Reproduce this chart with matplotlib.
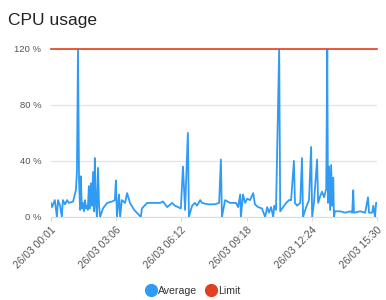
import matplotlib
matplotlib.use('Agg')
import matplotlib.pyplot as plt
import numpy as np
from matplotlib.lines import Line2D

plt.rcParams['font.family'] = ['Liberation Sans', 'DejaVu Sans']

# minutes after 26/03 00:01
minutes = [0, 3, 11, 17, 20, 26, 31, 34, 40, 46, 51, 63, 71, 74, 77, 80, 83, 85, 88, 91,
           94, 97, 100, 103, 105, 108, 111, 114, 117, 120, 123, 125, 128, 131, 134, 137, 140,
           148, 160, 174, 182, 185, 188, 194, 197, 202, 211, 217, 225, 237, 256, 259, 274,
           311, 319, 331, 345, 353, 362, 370, 376, 382, 390, 393, 402, 410, 416, 425, 430,
           447, 467, 479, 484, 487, 496, 510, 527, 533, 539, 541, 547, 553, 559, 567, 576,
           581, 590, 601, 610, 616, 621, 627, 633, 636, 641, 650, 653, 661, 670, 678, 684,
           692, 695, 701, 710, 715, 718, 727, 735, 741, 744, 749, 758, 761, 767, 772, 778,
           784, 787, 789, 792, 795, 798, 801, 804, 806, 809, 824, 838, 852, 858, 861, 863,
           881, 895, 903, 906, 915, 918, 923, 926, 929]
average = [10, 7, 12, 0, 12, 8, 0, 12, 9, 12, 10, 11, 19, 32, 120, 26, 5, 29, 6, 10,
           4, 12, 6, 8, 5, 22, 6, 24, 8, 32, 4, 42, 10, 0, 35, 8, 0,
           6, 10, 11, 12, 26, 0, 16, 0, 12, 10, 17, 10, 5, 0, 6, 10,
           10, 11, 7, 10, 8, 7, 6, 36, 5, 60, 0, 8, 10, 8, 12, 10,
           9, 9, 10, 41, 0, 12, 10, 10, 7, 16, 0, 16, 10, 13, 12, 17,
           9, 7, 6, 0, 7, 3, 7, 0, 8, 5, 120, 4, 7, 10, 12, 12,
           40, 10, 8, 10, 42, 0, 7, 12, 50, 0, 10, 41, 10, 15, 18, 14,
           20, 120, 10, 36, 5, 37, 8, 28, 0, 4, 4, 3, 4, 3, 19, 3,
           4, 3, 14, 3, 3, 8, 0, 10, 10]
limit = 120
tick_labels = ['26/03 00:01', '26/03 03:06', '26/03 06:12', '26/03 09:18', '26/03 12:24', '26/03 15:30']
tick_minutes = [0, 185, 371, 557, 743, 929]

start = np.datetime64('2024-03-26T00:01')
times = start + np.array(minutes, dtype='timedelta64[m]')
ticks = start + np.array(tick_minutes, dtype='timedelta64[m]')

blue = '#2f9bf4'
red = '#e0401f'
grey = '#555555'

fig = plt.figure(figsize=(3.86, 3.0), dpi=100)
ax = fig.add_axes([0.132, 0.277, 0.845, 0.56])

ax.plot(times, average, color=blue, linewidth=1.3, zorder=3)
ax.plot([times[0], times[-1]], [limit, limit], color=red, linewidth=1.2, zorder=4, clip_on=False)

ax.set_xlim(times[0], times[-1])
ax.set_ylim(0, 120)
ax.set_yticks([0, 40, 80, 120])
ax.set_yticklabels(['0 %', '40 %', '80 %', '120 %'])
ax.set_xticks(ticks)
ax.set_xticklabels(tick_labels, rotation=45, ha='right', va='top', rotation_mode='anchor')

ax.grid(axis='y', color='#e4e4e4', linewidth=0.9)
ax.set_axisbelow(True)
for s in ['top', 'right', 'left']:
    ax.spines[s].set_visible(False)
ax.spines['bottom'].set_color('#dcdcdc')
ax.tick_params(axis='y', length=0, pad=7, labelsize=6.8, labelcolor=grey)
ax.tick_params(axis='x', length=3, color='#dcdcdc', pad=3, labelsize=7.4, labelcolor=grey)

fig.text(0.02, 0.915, 'CPU usage', fontsize=12.5, color='#222222')

handles = [Line2D([], [], marker='o', linestyle='none', markersize=8.5, color=blue),
           Line2D([], [], marker='o', linestyle='none', markersize=8.5, color=red)]
fig.legend(handles, ['Average', 'Limit'], loc='center', bbox_to_anchor=(0.5, 0.03),
           ncol=2, frameon=False, fontsize=7.6, handletextpad=0.15, columnspacing=0.9,
           handlelength=1.0, labelcolor='#333333')

fig.savefig('out.png', dpi=100)
